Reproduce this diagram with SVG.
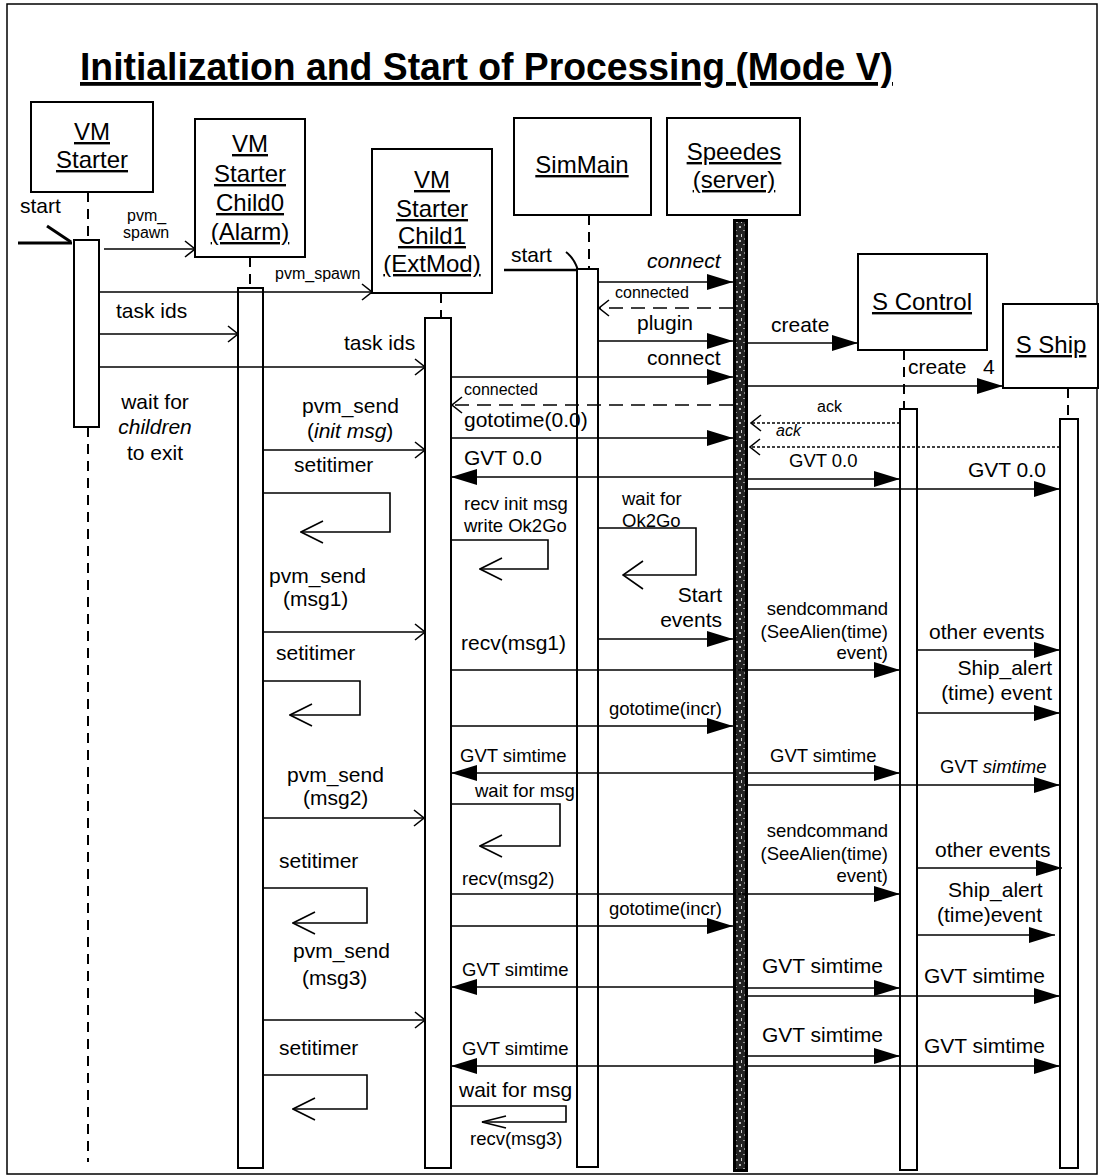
<svg xmlns="http://www.w3.org/2000/svg" width="1100" height="1176" viewBox="0 0 1100 1176">
<style>
text{font-family:"Liberation Sans",Arial,sans-serif;fill:#000}
.title{font-size:38px;font-weight:bold;text-decoration:underline}
.nl{font-size:24px;text-anchor:middle;text-decoration:underline}
.a{font-size:21px}
.b{font-size:18.5px}
.c{font-size:16px}
.i{font-style:italic}
.m{text-anchor:middle}
.e{text-anchor:end}
.box{fill:#fff;stroke:#000;stroke-width:2}
.act{fill:#fff;stroke:#000;stroke-width:2}
.life{stroke:#000;stroke-width:2;stroke-dasharray:10 7;fill:none}
.msg{stroke:#000;stroke-width:1.6;fill:none}
.dash{stroke-dasharray:14 8}
.dot{stroke-dasharray:3 2}
.fa{marker-end:url(#filled)}
.oa{marker-end:url(#open)}
.la{marker-end:url(#loop)}
</style>
<defs>
<marker id="filled" viewBox="0 0 26 16" refX="26" refY="8" markerWidth="26" markerHeight="16" markerUnits="userSpaceOnUse" orient="auto"><path d="M0,0 L26,8 L0,16 z" fill="#000"/></marker>
<marker id="open" viewBox="0 0 12 18" refX="11" refY="9" markerWidth="12" markerHeight="18" markerUnits="userSpaceOnUse" orient="auto"><path d="M1,1 L11,9 L1,17" fill="none" stroke="#000" stroke-width="1.6"/></marker>
<marker id="loop" viewBox="0 0 24 26" refX="23" refY="13" markerWidth="24" markerHeight="26" markerUnits="userSpaceOnUse" orient="auto"><path d="M1,2 L23,13 L1,24" fill="none" stroke="#000" stroke-width="1.6"/></marker>
<marker id="loopS" viewBox="0 0 26 16" refX="25" refY="8" markerWidth="26" markerHeight="16" markerUnits="userSpaceOnUse" orient="auto"><path d="M1,2 L25,8 L1,14" fill="none" stroke="#000" stroke-width="1.6"/></marker>
<marker id="loopB" viewBox="0 0 22 30" refX="21" refY="15" markerWidth="22" markerHeight="30" markerUnits="userSpaceOnUse" orient="auto"><path d="M1,1 L21,15 L1,29" fill="none" stroke="#000" stroke-width="1.6"/></marker>
<pattern id="noise" width="9" height="14" patternUnits="userSpaceOnUse"><rect width="9" height="14" fill="#222"/><rect x="1" y="2" width="2" height="2" fill="#bbb"/><rect x="5" y="6" width="3" height="1" fill="#999"/><rect x="3" y="10" width="1" height="3" fill="#ccc"/><rect x="6" y="0" width="1" height="2" fill="#888"/><rect x="7" y="11" width="2" height="2" fill="#aaa"/></pattern>
</defs>
<rect x="7" y="4" width="1090" height="1170" fill="#fff" stroke="#000" stroke-width="1.5"/>
<text class="title" x="80" y="80" textLength="813" lengthAdjust="spacingAndGlyphs">Initialization and Start of Processing (Mode V)</text>

<g id="vm-starter">
<rect class="box" x="31" y="102" width="122" height="90"/>
<text class="nl" x="92" y="140">VM</text>
<text class="nl" x="92" y="168">Starter</text>
<line class="life" x1="88" y1="192" x2="88" y2="240"/>
<line class="life" x1="88" y1="427" x2="88" y2="1162"/>
<rect class="act" x="74" y="240" width="25" height="187"/>
</g>
<g id="child0">
<rect class="box" x="195" y="119" width="110" height="138"/>
<text class="nl" x="250" y="152">VM</text>
<text class="nl" x="250" y="182">Starter</text>
<text class="nl" x="250" y="211">Child0</text>
<text class="nl" x="250" y="240">(Alarm)</text>
<line class="life" x1="250" y1="257" x2="250" y2="288"/>
<rect class="act" x="238" y="288" width="25" height="880"/>
</g>
<g id="child1">
<rect class="box" x="372" y="149" width="120" height="144"/>
<text class="nl" x="432" y="188">VM</text>
<text class="nl" x="432" y="217">Starter</text>
<text class="nl" x="432" y="244">Child1</text>
<text class="nl" x="432" y="272">(ExtMod)</text>
<line class="life" x1="441" y1="293" x2="441" y2="318"/>
<rect class="act" x="425" y="318" width="26" height="850"/>
</g>
<g id="simmain">
<rect class="box" x="514" y="118" width="137" height="97"/>
<text class="nl" x="582" y="173">SimMain</text>
<line class="life" x1="589" y1="215" x2="589" y2="269"/>
<rect class="act" x="577" y="269" width="21" height="898"/>
</g>
<g id="speedes">
<rect class="box" x="667" y="118" width="133" height="97"/>
<text class="nl" x="734" y="160">Speedes</text>
<text class="nl" x="734" y="188">(server)</text>
<rect x="733" y="219" width="15" height="953" fill="#000"/>
<rect x="736" y="222" width="9" height="947" fill="url(#noise)"/>
</g>
<g id="s-control">
<rect class="box" x="858" y="254" width="129" height="96"/>
<text class="nl" x="922" y="310">S Control</text>
<line class="life" x1="904" y1="350" x2="904" y2="409"/>
<rect class="act" x="900" y="409" width="17" height="761"/>
</g>
<g id="s-ship">
<rect class="box" x="1003" y="304" width="95" height="84"/>
<text class="nl" x="1051" y="353">S Ship</text>
<line class="life" x1="1068" y1="388" x2="1068" y2="419"/>
<rect class="act" x="1060" y="419" width="18" height="749"/>
</g>

<g id="connectors">
<path d="M18,243 H72" stroke="#000" stroke-width="3" fill="none"/>
<path d="M47,226 L71,242" stroke="#000" stroke-width="3" fill="none"/>
<path d="M504,270 H577" stroke="#000" stroke-width="2.5" fill="none"/>
<path d="M566,252 Q574,258 578,270" stroke="#000" stroke-width="2" fill="none"/>

<line class="msg oa" x1="104" y1="249" x2="195" y2="249"/>
<line class="msg oa" x1="99" y1="292" x2="372" y2="292"/>
<line class="msg oa" x1="99" y1="334" x2="238" y2="334"/>
<line class="msg oa" x1="99" y1="367" x2="425" y2="367"/>

<line class="msg oa" x1="263" y1="450" x2="425" y2="450"/>
<line class="msg oa" x1="263" y1="632" x2="425" y2="632"/>
<line class="msg oa" x1="263" y1="818" x2="424" y2="818"/>
<line class="msg oa" x1="263" y1="1020" x2="425" y2="1020"/>
<path class="msg la" d="M263,493 H390 V532 H301"/>
<path class="msg la" d="M263,681 H360 V715 H290"/>
<path class="msg la" d="M263,888 H367 V923 H293"/>
<path class="msg la" d="M263,1075 H367 V1109 H293"/>

<line class="msg fa" x1="598" y1="282" x2="733" y2="282"/>
<line class="msg dash oa" x1="733" y1="308" x2="599" y2="308"/>
<line class="msg fa" x1="598" y1="341" x2="733" y2="341"/>
<line class="msg fa" x1="598" y1="639" x2="733" y2="639"/>
<path class="msg" marker-end="url(#loopB)" d="M598,528 H696 V575 H623"/>

<line class="msg fa" x1="451" y1="377" x2="733" y2="377"/>
<line class="msg dash oa" x1="733" y1="405" x2="452" y2="405"/>
<line class="msg fa" x1="451" y1="438" x2="733" y2="438"/>
<line class="msg fa" x1="733" y1="477" x2="451" y2="477"/>
<line class="msg fa" x1="451" y1="670" x2="900" y2="670"/>
<line class="msg fa" x1="451" y1="726" x2="733" y2="726"/>
<line class="msg fa" x1="733" y1="773" x2="451" y2="773"/>
<line class="msg fa" x1="451" y1="894" x2="900" y2="894"/>
<line class="msg fa" x1="451" y1="926" x2="733" y2="926"/>
<line class="msg fa" x1="733" y1="987" x2="451" y2="987"/>
<line class="msg fa" x1="733" y1="1066" x2="451" y2="1066"/>
<path class="msg la" d="M451,540 H548 V569 H480"/>
<path class="msg la" d="M451,804 H560 V846 H480"/>
<path class="msg" marker-end="url(#loopS)" d="M451,1106 H566 V1122 H482"/>

<line class="msg fa" x1="748" y1="343" x2="858" y2="343"/>
<line class="msg fa" x1="748" y1="386" x2="1003" y2="386"/>
<line class="msg dot oa" x1="900" y1="423" x2="751" y2="423"/>
<line class="msg dot oa" x1="1060" y1="447" x2="750" y2="447"/>
<line class="msg fa" x1="748" y1="479" x2="900" y2="479"/>
<line class="msg fa" x1="748" y1="489" x2="1060" y2="489"/>
<line class="msg fa" x1="748" y1="773" x2="900" y2="773"/>
<line class="msg fa" x1="748" y1="785" x2="1060" y2="785"/>
<line class="msg fa" x1="748" y1="988" x2="900" y2="988"/>
<line class="msg fa" x1="748" y1="996" x2="1060" y2="996"/>
<line class="msg fa" x1="748" y1="1056" x2="900" y2="1056"/>
<line class="msg fa" x1="748" y1="1066" x2="1060" y2="1066"/>

<line class="msg fa" x1="917" y1="650" x2="1060" y2="650"/>
<line class="msg fa" x1="917" y1="713" x2="1060" y2="713"/>
<line class="msg fa" x1="917" y1="868" x2="1062" y2="868"/>
<line class="msg fa" x1="917" y1="935" x2="1055" y2="935"/>
</g>

<g id="labels">
<text class="a" x="20" y="213">start</text>
<text class="c" x="127" y="221">pvm_</text>
<text class="c" x="123" y="238">spawn</text>
<text class="c" x="275" y="279">pvm_spawn</text>
<text class="a" x="116" y="318">task ids</text>
<text class="a" x="344" y="350">task ids</text>
<text class="a m" x="155" y="409">wait for</text>
<text class="a m i" x="155" y="434">children</text>
<text class="a m" x="155" y="460">to exit</text>

<text class="a" x="302" y="413">pvm_send</text>
<text class="a" x="307" y="438">(<tspan class="i">init msg</tspan>)</text>
<text class="a" x="294" y="472">setitimer</text>
<text class="a" x="269" y="583">pvm_send</text>
<text class="a" x="283" y="606">(msg1)</text>
<text class="a" x="276" y="660">setitimer</text>
<text class="a" x="287" y="782">pvm_send</text>
<text class="a" x="303" y="805">(msg2)</text>
<text class="a" x="279" y="868">setitimer</text>
<text class="a" x="293" y="958">pvm_send</text>
<text class="a" x="302" y="985">(msg3)</text>
<text class="a" x="279" y="1055">setitimer</text>

<text class="a" x="511" y="262">start</text>
<text class="a i" x="647" y="268">connect</text>
<text class="c" x="615" y="298">connected</text>
<text class="a" x="637" y="330">plugin</text>
<text class="b" x="622" y="505">wait for</text>
<text class="b" x="622" y="527">Ok2Go</text>
<text class="a e" x="722" y="602">Start</text>
<text class="a e" x="722" y="627">events</text>

<text class="a" x="647" y="365">connect</text>
<text class="c" x="464" y="395">connected</text>
<text class="a" x="464" y="427">gototime(0.0)</text>
<text class="a" x="464" y="465">GVT 0.0</text>
<text class="b" x="464" y="510">recv init msg</text>
<text class="b" x="464" y="532">write Ok2Go</text>
<text class="a" x="461" y="650">recv(msg1)</text>
<text class="b e" x="722" y="715">gototime(incr)</text>
<text class="b" x="460" y="762">GVT simtime</text>
<text class="b" x="475" y="797">wait for msg</text>
<text class="b" x="462" y="885">recv(msg2)</text>
<text class="b e" x="722" y="915">gototime(incr)</text>
<text class="b" x="462" y="976">GVT simtime</text>
<text class="b" x="462" y="1055">GVT simtime</text>
<text class="a" x="459" y="1097">wait for msg</text>
<text class="b" x="470" y="1145">recv(msg3)</text>

<text class="a" x="771" y="332">create</text>
<text class="a" x="908" y="374">create</text>
<text class="a" x="983" y="374">4</text>
<text class="c" x="817" y="412">ack</text>
<text class="c i" x="776" y="436">ack</text>
<text class="b" x="789" y="467">GVT 0.0</text>
<text class="a" x="968" y="477">GVT 0.0</text>
<text class="b e" x="888" y="615">sendcommand</text>
<text class="b e" x="888" y="638">(SeeAlien(time)</text>
<text class="b e" x="888" y="659">event)</text>
<text class="b" x="770" y="762">GVT simtime</text>
<text class="b" x="940" y="773">GVT <tspan class="i">simtime</tspan></text>
<text class="b e" x="888" y="837">sendcommand</text>
<text class="b e" x="888" y="860">(SeeAlien(time)</text>
<text class="b e" x="888" y="882">event)</text>
<text class="a" x="762" y="973">GVT simtime</text>
<text class="a" x="924" y="983">GVT simtime</text>
<text class="a" x="762" y="1042">GVT simtime</text>
<text class="a" x="924" y="1053">GVT simtime</text>

<text class="a" x="929" y="639">other events</text>
<text class="a e" x="1052" y="675">Ship_alert</text>
<text class="a e" x="1052" y="700">(time) event</text>
<text class="a" x="935" y="857">other events</text>
<text class="a" x="948" y="897">Ship_alert</text>
<text class="a" x="937" y="922">(time)event</text>
</g>
</svg>
